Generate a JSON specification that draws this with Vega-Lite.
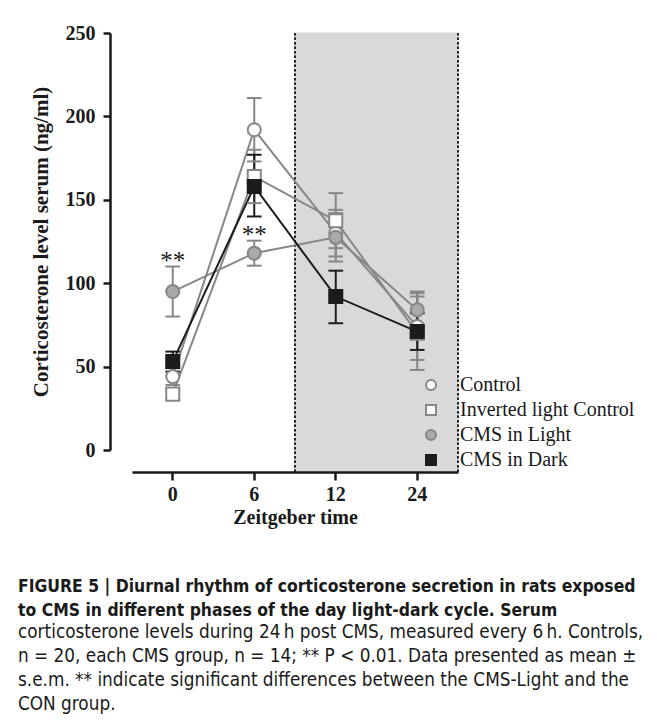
{
  "$schema": "https://vega.github.io/schema/vega-lite/v6.json",
  "width": 326,
  "height": 417,
  "autosize": "none",
  "padding": {"left": 132, "top": 33, "right": 199, "bottom": 274},
  "background": "white",
  "config": {
    "view": {"stroke": null},
    "font": "Liberation Serif",
    "legend": {"title": null, "orient": "none", "legendX": 289, "legendY": 342, "labelFont": "Liberation Serif", "labelFontSize": 20, "labelColor": "#1a1a1a", "labelOffset": 19, "labelLimit": 400, "rowPadding": 5, "symbolStrokeWidth": 2}
  },
  "title": {
    "text": ["FIGURE 5 | Diurnal rhythm of corticosterone secretion in rats exposed", "to CMS in different phases of the day light-dark cycle. Serum"],
    "subtitle": ["corticosterone levels during 24\u2009h post CMS, measured every 6\u2009h. Controls,", "n = 20, each CMS group, n = 14; ** P < 0.01. Data presented as mean \u00b1", "s.e.m. ** indicate significant differences between the CMS-Light and the", "CON group."],
    "orient": "bottom",
    "anchor": "start",
    "frame": "bounds",
    "offset": 51,
    "dx": -12,
    "font": "DejaVu Sans Condensed, sans-serif",
    "fontSize": 17.4,
    "fontWeight": "bold",
    "color": "#1a1a1a",
    "lineHeight": 24,
    "subtitleFont": "DejaVu Sans Condensed, sans-serif",
    "subtitleFontSize": 18.8,
    "subtitleFontWeight": "normal",
    "subtitleColor": "#1a1a1a",
    "subtitleLineHeight": 24,
    "subtitlePadding": 4
  },
  "datasets": {
    "cort": [
      {"group": "Control", "zt": "0", "mean": 44, "lo": 39, "hi": 49},
      {"group": "Control", "zt": "6", "mean": 192, "lo": 173, "hi": 211},
      {"group": "Control", "zt": "12", "mean": 130, "lo": 116, "hi": 144},
      {"group": "Control", "zt": "24", "mean": 74, "lo": 54, "hi": 94},
      {"group": "Inverted light Control", "zt": "0", "mean": 33.5, "lo": 30, "hi": 37},
      {"group": "Inverted light Control", "zt": "6", "mean": 164, "lo": 148, "hi": 180},
      {"group": "Inverted light Control", "zt": "12", "mean": 137.5, "lo": 121, "hi": 154},
      {"group": "Inverted light Control", "zt": "24", "mean": 70, "lo": 48, "hi": 92},
      {"group": "CMS in Light", "zt": "0", "mean": 95, "lo": 80, "hi": 110, "sig": "**"},
      {"group": "CMS in Light", "zt": "6", "mean": 118, "lo": 110.5, "hi": 125.5, "sig": "**"},
      {"group": "CMS in Light", "zt": "12", "mean": 127.5, "lo": 113, "hi": 142},
      {"group": "CMS in Light", "zt": "24", "mean": 84, "lo": 73, "hi": 95},
      {"group": "CMS in Dark", "zt": "0", "mean": 53, "lo": 47, "hi": 59},
      {"group": "CMS in Dark", "zt": "6", "mean": 158, "lo": 140, "hi": 177},
      {"group": "CMS in Dark", "zt": "12", "mean": 92, "lo": 76, "hi": 107.5},
      {"group": "CMS in Dark", "zt": "24", "mean": 71, "lo": 60, "hi": 82}
    ],
    "dark": [
      {"zt": "12", "phase": "dark"},
      {"zt": "24", "phase": "dark"}
    ]
  },
  "layer": [
    {
      "data": {"name": "dark"},
      "mark": {"type": "rect", "fill": "#d9d9d9", "stroke": "#d9d9d9", "strokeWidth": 1},
      "encoding": {
        "x": {"field": "zt", "type": "ordinal"},
        "y": {"datum": 250, "type": "quantitative"},
        "y2": {"datum": -13.2}
      }
    },
    {
      "data": {"name": "dark"},
      "mark": {"type": "rule", "color": "#1a1a1a", "strokeWidth": 1.5, "strokeDash": [2.5, 2]},
      "encoding": {
        "x": {"datum": "12", "type": "ordinal", "bandPosition": 0},
        "y": {"datum": 250, "type": "quantitative"},
        "y2": {"datum": -13.2}
      }
    },
    {
      "data": {"name": "dark"},
      "mark": {"type": "rule", "color": "#1a1a1a", "strokeWidth": 1.5, "strokeDash": [2.5, 2]},
      "encoding": {
        "x": {"datum": "24", "type": "ordinal", "bandPosition": 1},
        "y": {"datum": 250, "type": "quantitative"},
        "y2": {"datum": -13.2}
      }
    },
    {
      "data": {"name": "cort"},
      "mark": {"type": "line", "strokeWidth": 2},
      "encoding": {
        "x": {"field": "zt", "type": "ordinal"},
        "y": {"field": "mean", "type": "quantitative"},
        "stroke": {"field": "group", "type": "nominal", "scale": {"domain": ["Control", "Inverted light Control", "CMS in Light", "CMS in Dark"], "range": ["#878787", "#878787", "#878787", "#1c1c1c"]}}
      }
    },
    {
      "data": {"name": "cort"},
      "mark": {"type": "rule", "strokeWidth": 2},
      "encoding": {
        "x": {"field": "zt", "type": "ordinal"},
        "y": {"field": "lo", "type": "quantitative"},
        "y2": {"field": "hi"},
        "stroke": {"field": "group", "type": "nominal", "scale": {"domain": ["Control", "Inverted light Control", "CMS in Light", "CMS in Dark"], "range": ["#878787", "#878787", "#878787", "#1c1c1c"]}}
      }
    },
    {
      "data": {"name": "cort"},
      "mark": {"type": "point", "shape": "stroke", "size": 215, "strokeWidth": 2, "opacity": 1},
      "encoding": {
        "x": {"field": "zt", "type": "ordinal"},
        "y": {"field": "lo", "type": "quantitative"},
        "stroke": {"field": "group", "type": "nominal", "scale": {"domain": ["Control", "Inverted light Control", "CMS in Light", "CMS in Dark"], "range": ["#878787", "#878787", "#878787", "#1c1c1c"]}}
      }
    },
    {
      "data": {"name": "cort"},
      "mark": {"type": "point", "shape": "stroke", "size": 215, "strokeWidth": 2, "opacity": 1},
      "encoding": {
        "x": {"field": "zt", "type": "ordinal"},
        "y": {"field": "hi", "type": "quantitative"},
        "stroke": {"field": "group", "type": "nominal", "scale": {"domain": ["Control", "Inverted light Control", "CMS in Light", "CMS in Dark"], "range": ["#878787", "#878787", "#878787", "#1c1c1c"]}}
      }
    },
    {
      "data": {"name": "cort"},
      "mark": {"type": "point", "filled": true, "size": 170, "strokeWidth": 2, "opacity": 1},
      "encoding": {
        "x": {"field": "zt", "type": "ordinal"},
        "y": {"field": "mean", "type": "quantitative"},
        "shape": {"field": "group", "type": "nominal", "scale": {"domain": ["Control", "Inverted light Control", "CMS in Light", "CMS in Dark"], "range": ["circle", "square", "circle", "square"]}},
        "fill": {"field": "group", "type": "nominal", "scale": {"domain": ["Control", "Inverted light Control", "CMS in Light", "CMS in Dark"], "range": ["#ffffff", "#ffffff", "#a9a9a9", "#1c1c1c"]}},
        "stroke": {"field": "group", "type": "nominal", "scale": {"domain": ["Control", "Inverted light Control", "CMS in Light", "CMS in Dark"], "range": ["#878787", "#878787", "#878787", "#1c1c1c"]}}
      }
    },
    {
      "data": {"name": "cort"},
      "transform": [{"filter": "datum.sig"}],
      "mark": {"type": "text", "font": "Liberation Serif", "fontSize": 25, "color": "#1a1a1a", "baseline": "middle", "dy": -6, "letterSpacing": 2},
      "encoding": {
        "x": {"field": "zt", "type": "ordinal"},
        "y": {"field": "hi", "type": "quantitative"},
        "text": {"field": "sig"}
      }
    }
  ],
  "encoding": {
    "x": {
      "field": "zt",
      "type": "ordinal",
      "sort": ["0", "6", "12", "24"],
      "scale": {"type": "band", "domain": ["0", "6", "12", "24"], "paddingInner": 0, "paddingOuter": 0},
      "axis": {"title": "Zeitgeber time", "labelAngle": 0, "offset": 22, "domainColor": "#1a1a1a", "domainWidth": 2.5, "tickColor": "#1a1a1a", "tickWidth": 2.5, "tickSize": 8, "labelFont": "Liberation Serif", "labelFontWeight": "bold", "labelFontSize": 20, "labelColor": "#1a1a1a", "labelPadding": 4, "titleFont": "Liberation Serif", "titleFontWeight": "bold", "titleFontSize": 20, "titleColor": "#1a1a1a", "titlePadding": 3}
    },
    "y": {
      "type": "quantitative",
      "scale": {"domain": [0, 250], "nice": false, "zero": false},
      "axis": {"title": "Corticosterone level serum (ng/ml)", "values": [0, 50, 100, 150, 200, 250], "grid": false, "offset": 22, "domainColor": "#1a1a1a", "domainWidth": 2.5, "tickColor": "#1a1a1a", "tickWidth": 2.5, "tickSize": 7, "labelFont": "Liberation Serif", "labelFontWeight": "bold", "labelFontSize": 20, "labelColor": "#1a1a1a", "labelPadding": 8, "titleFont": "Liberation Serif", "titleFontWeight": "bold", "titleFontSize": 21, "titleColor": "#1a1a1a", "titlePadding": 14}
    }
  }
}
